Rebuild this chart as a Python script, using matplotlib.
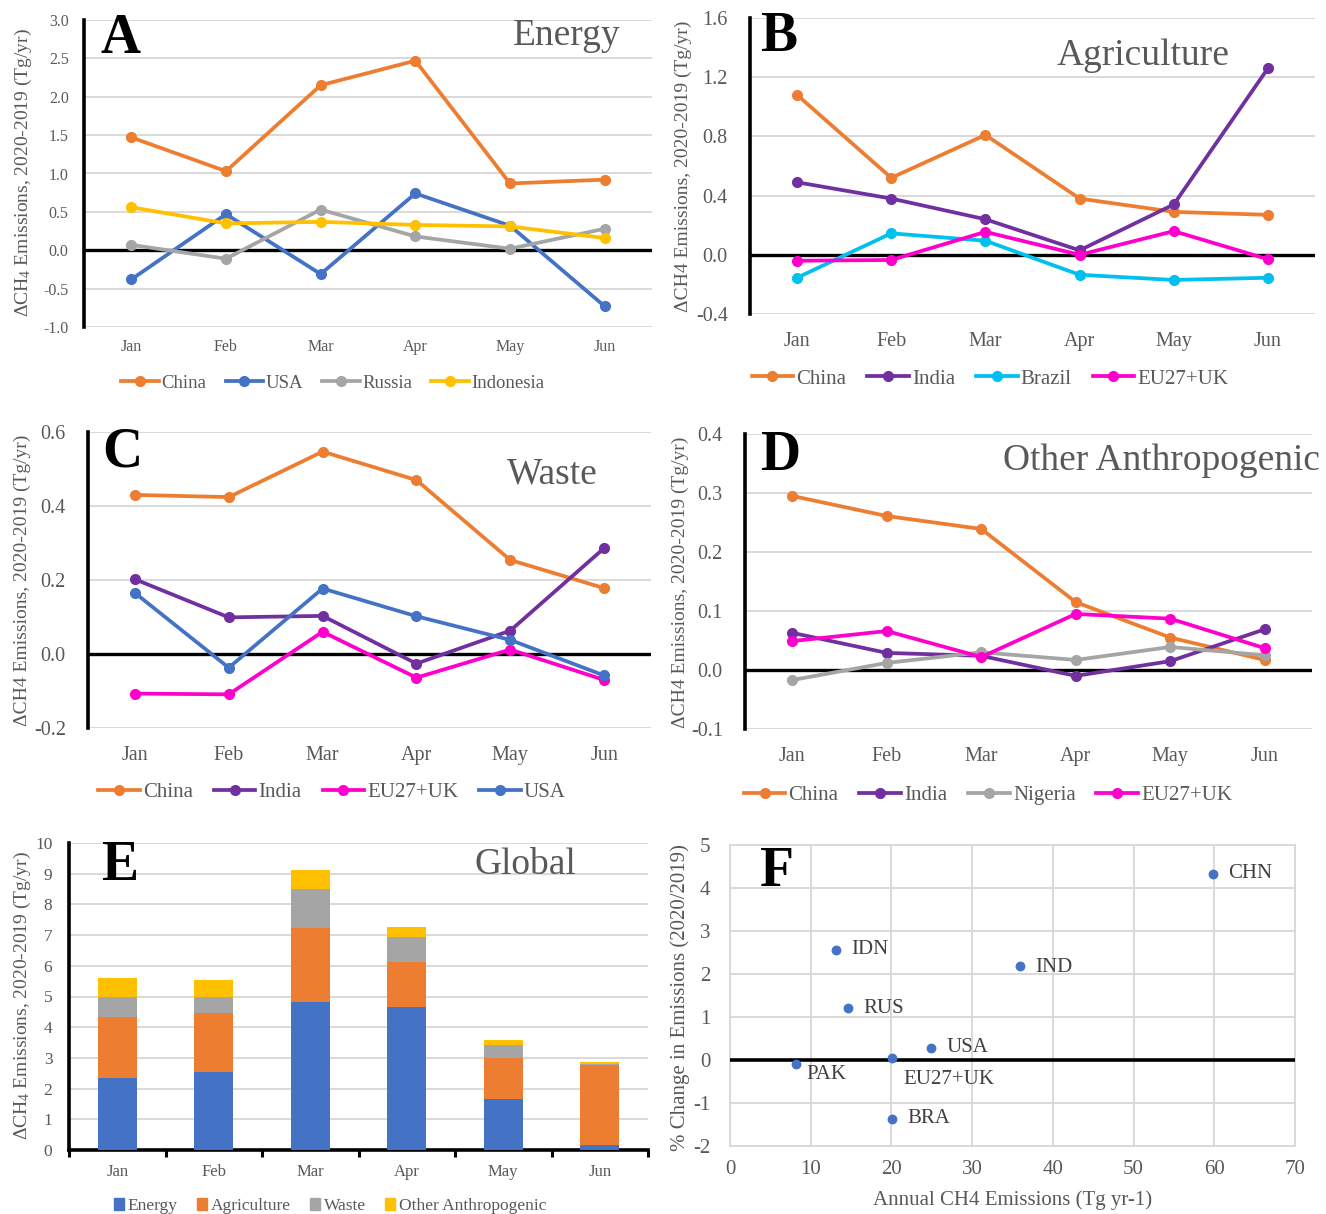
import matplotlib
matplotlib.use("Agg")
import matplotlib.pyplot as plt
from matplotlib.lines import Line2D
from matplotlib.patches import Patch

plt.rcParams["font.family"] = ["Liberation Serif", "DejaVu Serif"]
plt.rcParams["mathtext.fontset"] = "custom"
plt.rcParams["mathtext.rm"] = "Liberation Serif"
plt.rcParams["mathtext.it"] = "Liberation Serif:italic"
plt.rcParams["axes.unicode_minus"] = False

W, H = 1326, 1214
months = ["Jan", "Feb", "Mar", "Apr", "May", "Jun"]

# A: energy sector
energy_china = [1.47, 1.03, 2.15, 2.47, 0.87, 0.92]
energy_usa = [-0.38, 0.47, -0.31, 0.74, 0.32, -0.73]
energy_russia = [0.07, -0.11, 0.53, 0.18, 0.02, 0.28]
energy_indonesia = [0.56, 0.35, 0.37, 0.33, 0.31, 0.16]

# B: agriculture
agri_china = [1.08, 0.52, 0.81, 0.38, 0.29, 0.27]
agri_india = [0.49, 0.38, 0.24, 0.03, 0.34, 1.26]
agri_brazil = [-0.155, 0.145, 0.095, -0.135, -0.17, -0.155]
agri_eu = [-0.04, -0.035, 0.155, 0.0, 0.16, -0.03]

# C: waste
waste_china = [0.43, 0.424, 0.547, 0.47, 0.254, 0.178]
waste_india = [0.202, 0.099, 0.103, -0.026, 0.063, 0.286]
waste_eu = [-0.107, -0.109, 0.06, -0.064, 0.012, -0.07]
waste_usa = [0.165, -0.037, 0.177, 0.102, 0.038, -0.058]

# D: other anthropogenic
other_china = [0.295, 0.261, 0.239, 0.115, 0.055, 0.017]
other_india = [0.063, 0.029, 0.024, -0.01, 0.015, 0.069]
other_nigeria = [-0.017, 0.012, 0.03, 0.017, 0.039, 0.025]
other_eu = [0.049, 0.066, 0.022, 0.095, 0.087, 0.037]

# E: global, stacked by sector
glob_energy = [2.33, 2.54, 4.82, 4.66, 1.66, 0.16]
glob_agri = [2.00, 1.92, 2.41, 1.46, 1.34, 2.61]
glob_waste = [0.65, 0.52, 1.27, 0.82, 0.42, 0.03]
glob_other = [0.63, 0.57, 0.62, 0.32, 0.16, 0.07]

# F: annual emissions vs % change
f_codes = ["CHN", "IDN", "IND", "RUS", "USA", "EU27+UK", "PAK", "BRA"]
f_annual = [59.8, 13.1, 35.9, 14.6, 24.9, 20.1, 8.2, 20.1]
f_change = [4.33, 2.56, 2.19, 1.22, 0.28, 0.04, -0.09, -1.37]
f_offsets = [(11, 0), (11, 0), (11, -1), (11, -1), (11, 0), (8, -15), (7, -8), (11, 0)]

COL = {
    "China": "#ED7D31", "USA": "#4472C4", "Russia": "#A5A5A5",
    "Indonesia": "#FFC000", "India": "#7030A0", "Brazil": "#00C0F0",
    "EU27+UK": "#FF00CC", "Nigeria": "#A5A5A5",
}
GREY = "#595959"
GRID = "#D9D9D9"

fig = plt.figure(figsize=(W / 100, H / 100), dpi=100)


def box(l, t, r, b):
    return [l / W, 1 - b / H, (r - l) / W, (b - t) / H]


def ftext(x, y, s, **kw):
    fig.text(x / W, 1 - y / H, s, **kw)


def line_panel(rect, series, yticks, fmt, tick_fs, month_fs, leg_fs, leg_xy,
               ypad, xpad):
    ax = fig.add_axes(box(*rect))
    x = list(range(len(months)))
    for name, vals in series:
        ax.plot(x, vals, "-o", color=COL[name], lw=2.7, ms=7, zorder=3,
                solid_capstyle="round")
    ax.axhline(0, color="black", lw=2.4, zorder=2)
    ax.set_xlim(-0.5, 5.5)
    ax.set_ylim(yticks[0], yticks[-1])
    ax.set_yticks(yticks)
    ax.set_yticklabels([fmt.format(v) for v in yticks])
    ax.set_xticks(x)
    ax.set_xticklabels(months)
    ax.yaxis.grid(True, color=GRID, lw=1.4)
    ax.set_axisbelow(True)
    for s in ("top", "right", "bottom"):
        ax.spines[s].set_visible(False)
    ax.spines["left"].set_color("black")
    ax.spines["left"].set_linewidth(2.6)
    ax.tick_params(axis="y", length=0, pad=ypad, labelsize=tick_fs, labelcolor=GREY)
    ax.tick_params(axis="x", length=0, pad=xpad, labelsize=month_fs, labelcolor=GREY)
    handles = [Line2D([], [], color=COL[n], lw=2.7, marker="o", ms=7)
               for n, _ in series]
    fig.legend(handles, [n for n, _ in series], loc="center",
               bbox_to_anchor=(leg_xy[0] / W, 1 - leg_xy[1] / H), ncol=4,
               frameon=False, fontsize=leg_fs, handlelength=2.0,
               handletextpad=0.15, columnspacing=1.0, labelcolor=GREY)
    return ax


ylab4 = "\u0394CH$_4$ Emissions, 2020-2019 (Tg/yr)"
ylab = "\u0394CH4 Emissions, 2020-2019 (Tg/yr)"
letter_kw = dict(fontsize=40, fontweight="bold", color="black", va="center", ha="left")
title_kw = dict(fontsize=27, color=GREY, va="center")

# A
line_panel((84, 20, 652, 327),
           [("China", energy_china), ("USA", energy_usa),
            ("Russia", energy_russia), ("Indonesia", energy_indonesia)],
           [-1.0, -0.5, 0.0, 0.5, 1.0, 1.5, 2.0, 2.5, 3.0], "{:.1f}",
           11.5, 11.5, 13.5, (333, 383), 11, 9)
ftext(23, 173, ylab4, rotation=90, fontsize=14, color=GREY, ha="center", va="center")
ftext(101, 39, "A", **letter_kw)
ftext(620, 36, "Energy", ha="right", **title_kw)

# B
line_panel((750, 18, 1315, 314),
           [("China", agri_china), ("India", agri_india),
            ("Brazil", agri_brazil), ("EU27+UK", agri_eu)],
           [-0.4, 0.0, 0.4, 0.8, 1.2, 1.6], "{:.1f}",
           14.5, 14.5, 15, (990, 379), 16, 13)
ftext(683, 166, ylab, rotation=90, fontsize=14, color=GREY, ha="center", va="center")
ftext(760, 37, "B", **letter_kw)
ftext(1057, 56, "Agriculture", ha="left", **title_kw)

# C
line_panel((88, 432, 651, 728),
           [("China", waste_china), ("India", waste_india),
            ("EU27+UK", waste_eu), ("USA", waste_usa)],
           [-0.2, 0.0, 0.2, 0.4, 0.6], "{:.1f}",
           14.5, 14.5, 15, (332, 792), 16, 13)
ftext(22, 580, ylab, rotation=90, fontsize=14, color=GREY, ha="center", va="center")
ftext(102, 452, "C", **letter_kw)
ftext(507, 474, "Waste", ha="left", **title_kw)

# D
line_panel((745, 434, 1312, 729),
           [("China", other_china), ("India", other_india),
            ("Nigeria", other_nigeria), ("EU27+UK", other_eu)],
           [-0.1, 0.0, 0.1, 0.2, 0.3, 0.4], "{:.1f}",
           14.5, 14.5, 15, (988, 795), 16, 13)
ftext(680, 582, ylab, rotation=90, fontsize=14, color=GREY, ha="center", va="center")
ftext(760, 456, "D", **letter_kw)
ftext(1003, 461, "Other Anthropogenic", ha="left", **title_kw)

# E: stacked bars
axE = fig.add_axes(box(69, 843, 648, 1150))
xe = list(range(len(months)))
stack_cols = ["#4472C4", "#ED7D31", "#A5A5A5", "#FFC000"]
stack_names = ["Energy", "Agriculture", "Waste", "Other Anthropogenic"]
bottom = [0.0] * 6
for vals, c in zip([glob_energy, glob_agri, glob_waste, glob_other], stack_cols):
    axE.bar(xe, vals, width=0.4, bottom=bottom, color=c, zorder=3)
    bottom = [b + v for b, v in zip(bottom, vals)]
axE.set_xlim(-0.5, 5.5)
axE.set_ylim(0, 10)
axE.set_yticks(range(0, 11))
axE.set_xticks(xe)
axE.set_xticklabels(months)
axE.set_xticks([i - 0.5 for i in range(7)], minor=True)
axE.yaxis.grid(True, color=GRID, lw=1.4)
axE.set_axisbelow(True)
for s in ("top", "right"):
    axE.spines[s].set_visible(False)
for s in ("left", "bottom"):
    axE.spines[s].set_color("black")
    axE.spines[s].set_linewidth(2.6)
axE.tick_params(axis="y", length=0, pad=12, labelsize=12.5, labelcolor=GREY)
axE.tick_params(axis="x", which="major", length=0, pad=10, labelsize=12, labelcolor=GREY)
axE.tick_params(axis="x", which="minor", length=5, width=2.2, color="black", direction="out")
ftext(22, 996, ylab4, rotation=90, fontsize=14, color=GREY, ha="center", va="center")
ftext(101, 866, "E", **letter_kw)
ftext(474, 865, "Global", ha="left", **title_kw)
fig.legend([Patch(color=c) for c in stack_cols], stack_names, loc="center",
           bbox_to_anchor=(330 / W, 1 - 1206 / H), ncol=4, frameon=False,
           fontsize=12.5, handlelength=0.6, handleheight=0.7, handletextpad=0.2,
           columnspacing=1.1, labelcolor=GREY)

# F: scatter
axF = fig.add_axes(box(730, 845, 1295, 1146))
axF.scatter(f_annual, f_change, s=50, color="#4472C4", zorder=4, linewidths=0)
for code, xv, yv, off in zip(f_codes, f_annual, f_change, f_offsets):
    axF.annotate(code, (xv, yv), xytext=off, textcoords="offset points",
                 ha="left", va="center", fontsize=15, color="#404040")
axF.axhline(0, color="black", lw=2.6, zorder=3)
axF.set_xlim(0, 70)
axF.set_ylim(-2, 5)
axF.set_xticks(range(0, 71, 10))
axF.set_yticks(range(-2, 6))
axF.grid(True, color=GRID, lw=1.4)
axF.set_axisbelow(True)
for s in axF.spines.values():
    s.set_color(GRID)
    s.set_linewidth(1.4)
axF.tick_params(length=0, labelsize=15, labelcolor=GREY)
axF.tick_params(axis="y", pad=14)
axF.tick_params(axis="x", pad=10)
axF.set_xlabel("Annual CH4 Emissions (Tg yr-1)", fontsize=15, color=GREY, labelpad=8)
ftext(680, 998, "% Change in Emissions (2020/2019)", rotation=90, fontsize=15,
      color=GREY, ha="center", va="center")
ftext(760, 872, "F", **letter_kw)

fig.savefig("out.png", dpi=100)
